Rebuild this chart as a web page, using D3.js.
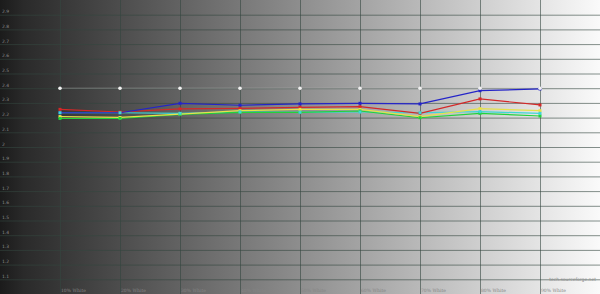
<!DOCTYPE html>
<html>
<head>
<meta charset="utf-8">
<script src="https://cdn.jsdelivr.net/npm/d3@7"></script>
<style>
  html, body { margin: 0; padding: 0; background: #fff; }
  svg { display: block; }
</style>
</head>
<body>
<svg width="600" height="294"></svg>
<script>
// data
var steps = [10, 20, 30, 40, 50, 60, 70, 80, 90];
var stepLabels = ["10% White", "20% White", "30% White", "40% White", "50% White", "60% White", "70% White", "80% White", "90% White"];
var yTicks = [1.1, 1.2, 1.3, 1.4, 1.5, 1.6, 1.7, 1.8, 1.9, 2, 2.1, 2.2, 2.3, 2.4, 2.5, 2.6, 2.7, 2.8, 2.9];
var target = [2.4, 2.4, 2.4, 2.4, 2.4, 2.4, 2.4, 2.4, 2.4];
var red    = [2.256, 2.238, 2.259, 2.263, 2.270, 2.274, 2.229, 2.327, 2.286];
var green  = [2.194, 2.194, 2.222, 2.236, 2.236, 2.245, 2.199, 2.229, 2.211];
var blue   = [2.233, 2.233, 2.297, 2.284, 2.293, 2.297, 2.293, 2.383, 2.395];
var yellow = [2.207, 2.201, 2.224, 2.247, 2.256, 2.256, 2.206, 2.261, 2.247];
var cyan   = [2.233, 2.233, 2.229, 2.238, 2.236, 2.238, 2.233, 2.240, 2.229];

var svg = d3.select("svg");
var width = +svg.attr("width");
var height = +svg.attr("height");

var x = d3.scaleLinear().domain([0, 100]).range([0, width]);
var y = d3.scaleLinear().domain([1, 3]).range([height, 0]);

// grey ramp background
var grad = svg.append("defs").append("linearGradient")
  .attr("id", "ramp").attr("x1", "0%").attr("x2", "100%").attr("y1", "0%").attr("y2", "0%");
grad.append("stop").attr("offset", "0%").attr("stop-color", "#1b1b1b");
grad.append("stop").attr("offset", "4%").attr("stop-color", "#2a2a2a");
grad.append("stop").attr("offset", "100%").attr("stop-color", "#fafafa");

svg.append("rect").attr("width", width).attr("height", height).attr("fill", "url(#ramp)");

// grid
svg.append("g")
  .attr("class", "grid grid--y")
  .call(d3.axisLeft(y).tickValues(yTicks).tickSize(-width).tickFormat(""))
  .call(function(g) { g.select(".domain").remove(); });

svg.append("g")
  .attr("class", "grid grid--x")
  .attr("transform", "translate(0," + height + ")")
  .call(d3.axisBottom(x).tickValues(steps).tickSize(-height).tickFormat(""))
  .call(function(g) { g.select(".domain").remove(); });

svg.selectAll(".grid line")
  .attr("stroke", "#34463f")
  .attr("stroke-opacity", 0.6)
  .attr("stroke-width", 1);

// y labels sit just above their line
svg.append("g").selectAll("text")
  .data(yTicks)
  .enter().append("text")
    .attr("x", 2)
    .attr("y", function(d) { return y(d) - 1.5; })
    .attr("font-family", "DejaVu Sans, sans-serif")
    .attr("font-size", 4.5)
    .attr("fill", "#8a8a8a")
    .text(function(d) { return d3.format("")(d); });

// x labels
svg.append("g").selectAll("text")
  .data(steps)
  .enter().append("text")
    .attr("x", function(d) { return x(d) + 1; })
    .attr("y", height - 2)
    .attr("font-family", "DejaVu Serif, serif")
    .attr("font-size", 4.5)
    .attr("fill", "#858585")
    .text(function(d, i) { return stepLabels[i]; });

svg.append("text")
  .attr("x", 596)
  .attr("y", 281)
  .attr("text-anchor", "end")
  .attr("font-family", "DejaVu Sans, sans-serif")
  .attr("font-size", 4.5)
  .attr("fill", "#8a8a8a")
  .text("tech.sourceforge.net");

var line = d3.line()
  .x(function(d, i) { return x(steps[i]); })
  .y(function(d) { return y(d); });

// target line, faint
svg.append("path")
  .attr("d", line(target))
  .attr("fill", "none")
  .attr("stroke", "#b8b8b8")
  .attr("stroke-opacity", 0.6)
  .attr("stroke-width", 0.8);

var series = [
  { name: "cyan", values: cyan, color: "#3fd6d6" },
  { name: "green", values: green, color: "#22d23a" },
  { name: "yellow", values: yellow, color: "#e6e24a" },
  { name: "red", values: red, color: "#d42828" },
  { name: "blue", values: blue, color: "#2424c8" }
];

series.forEach(function(s) {
  svg.append("path")
    .attr("d", line(s.values))
    .attr("fill", "none")
    .attr("stroke", s.color)
    .attr("stroke-width", 1.2);
});

var dotOrder = [series[4], series[3], series[2], series[1], series[0]];
dotOrder.forEach(function(s) {
  svg.append("g").selectAll("rect")
    .data(s.values)
    .enter().append("rect")
      .attr("x", function(d, i) { return x(steps[i]) - 1.5; })
      .attr("y", function(d) { return y(d) - 1.5; })
      .attr("width", 3)
      .attr("height", 3)
      .attr("fill", s.color);
});

svg.append("g").selectAll("circle")
  .data(target)
  .enter().append("circle")
    .attr("cx", function(d, i) { return x(steps[i]); })
    .attr("cy", function(d) { return y(d); })
    .attr("r", 1.8)
    .attr("fill", "#f0f0f0");
</script>
</body>
</html>
